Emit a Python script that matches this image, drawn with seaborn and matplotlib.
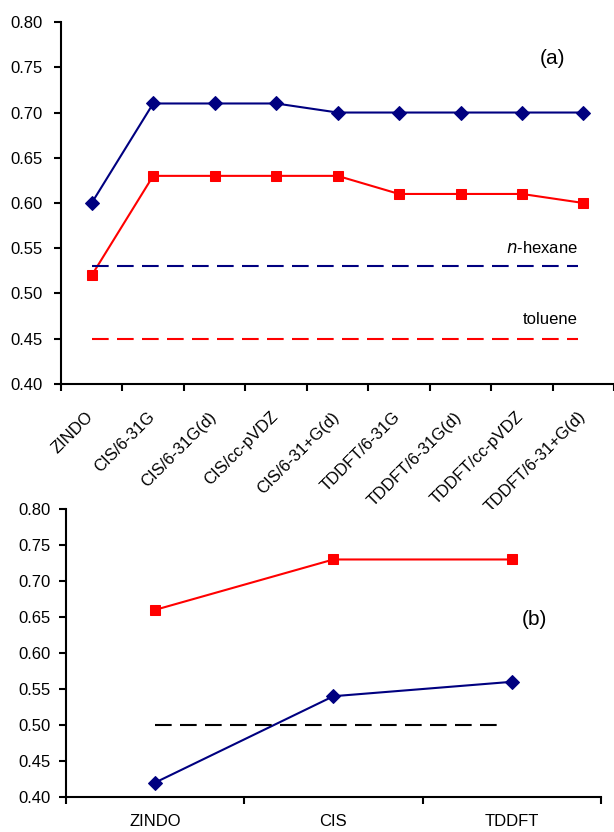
import numpy as np
import pandas as pd
import matplotlib
matplotlib.use("Agg")
import matplotlib.pyplot as plt
import matplotlib.transforms as mtransforms
import seaborn as sns

sns.set_style("ticks")
plt.rcParams["font.family"] = ["Liberation Sans", "DejaVu Sans"]
plt.rcParams["text.color"] = "black"
plt.rcParams["xtick.color"] = "black"
plt.rcParams["ytick.color"] = "black"

# Panel (a) data
methods_a = ["ZINDO", "CIS/6-31G", "CIS/6-31G(d)", "CIS/cc-pVDZ", "CIS/6-31+G(d)",
             "TDDFT/6-31G", "TDDFT/6-31G(d)", "TDDFT/cc-pVDZ", "TDDFT/6-31+G(d)"]
blue_a = [0.60, 0.71, 0.71, 0.71, 0.70, 0.70, 0.70, 0.70, 0.70]
red_a = [0.52, 0.63, 0.63, 0.63, 0.63, 0.61, 0.61, 0.61, 0.60]
hexane = 0.53
toluene = 0.45

# Panel (b) data
methods_b = ["ZINDO", "CIS", "TDDFT"]
red_b = [0.66, 0.73, 0.73]
blue_b = [0.42, 0.54, 0.56]
ref_b = 0.50

NAVY = "#000080"
RED = "#ff0000"
FS = 12

fig = plt.figure(figsize=(6.14, 8.32), dpi=100)
ax1 = fig.add_axes([0.0993, 0.5385, 0.901, 0.435])
ax2 = fig.add_axes([0.1075, 0.0421, 0.871, 0.346])


def style_axis(ax, n, labels, rot, ypad):
    ax.set_xlim(-0.5, n - 0.5)
    ax.set_ylim(0.40, 0.80)
    yt = np.arange(0.40, 0.801, 0.05)
    ax.set_yticks(yt)
    ax.set_yticklabels([f"{v:.2f}" for v in yt], fontsize=FS)
    ax.set_xticks(np.arange(-0.5, n, 1.0))
    ax.set_xticklabels([])
    ax.set_xticks(np.arange(n), minor=True)
    if rot:
        ax.set_xticklabels(labels, minor=True, rotation=45, ha="right", va="top",
                           rotation_mode="anchor", fontsize=FS)
        ax.tick_params(axis="x", which="minor", length=0, pad=18)
        shift = mtransforms.ScaledTranslation(-6 / 100, 0, fig.dpi_scale_trans)
        for lab in ax.get_xticklabels(minor=True):
            lab.set_transform(lab.get_transform() + shift)
    else:
        ax.set_xticklabels(labels, minor=True, fontsize=FS)
        ax.tick_params(axis="x", which="minor", length=0, pad=12)
    ax.tick_params(axis="both", which="major", length=5, width=1.5, direction="out")
    ax.tick_params(axis="y", pad=ypad)
    for s in ["top", "right"]:
        ax.spines[s].set_visible(False)
    for s in ["left", "bottom"]:
        ax.spines[s].set_linewidth(1.5)
        ax.spines[s].set_color("black")
    ax.set_xlabel("")
    ax.set_ylabel("")
    ax.grid(False)


# Panel (a)
xa = np.arange(len(methods_a))
sns.lineplot(x=xa, y=blue_a, ax=ax1, color=NAVY, marker="D", markersize=7,
             markeredgecolor=NAVY, linewidth=1.5)
sns.lineplot(x=xa, y=red_a, ax=ax1, color=RED, marker="s", markersize=7.5,
             markeredgecolor=RED, linewidth=1.5)
ax1.plot([0, 7.91], [hexane, hexane], color=NAVY, lw=1.5, dashes=(8, 4))
ax1.plot([0, 7.91], [toluene, toluene], color=RED, lw=1.5, dashes=(8, 4))
ax1.text(7.91, hexane + 0.011, r"$\it{n}$-hexane", ha="right", va="bottom", fontsize=FS)
ax1.text(7.91, toluene + 0.013, "toluene", ha="right", va="bottom", fontsize=FS)
ax1.text(7.49, 0.760, "(a)", ha="center", va="center", fontsize=15)
style_axis(ax1, len(methods_a), methods_a, True, 8)

# Panel (b)
xb = np.arange(len(methods_b))
sns.lineplot(x=xb, y=red_b, ax=ax2, color=RED, marker="s", markersize=7.5,
             markeredgecolor=RED, linewidth=1.5)
sns.lineplot(x=xb, y=blue_b, ax=ax2, color=NAVY, marker="D", markersize=7,
             markeredgecolor=NAVY, linewidth=1.5)
ax2.plot([0, 1.95], [ref_b, ref_b], color="black", lw=1.5, dashes=(8, 4))
ax2.text(2.13, 0.646, "(b)", ha="center", va="center", fontsize=15)
style_axis(ax2, len(methods_b), methods_b, False, 6)

fig.savefig("out.png", dpi=100)
plt.close(fig)
